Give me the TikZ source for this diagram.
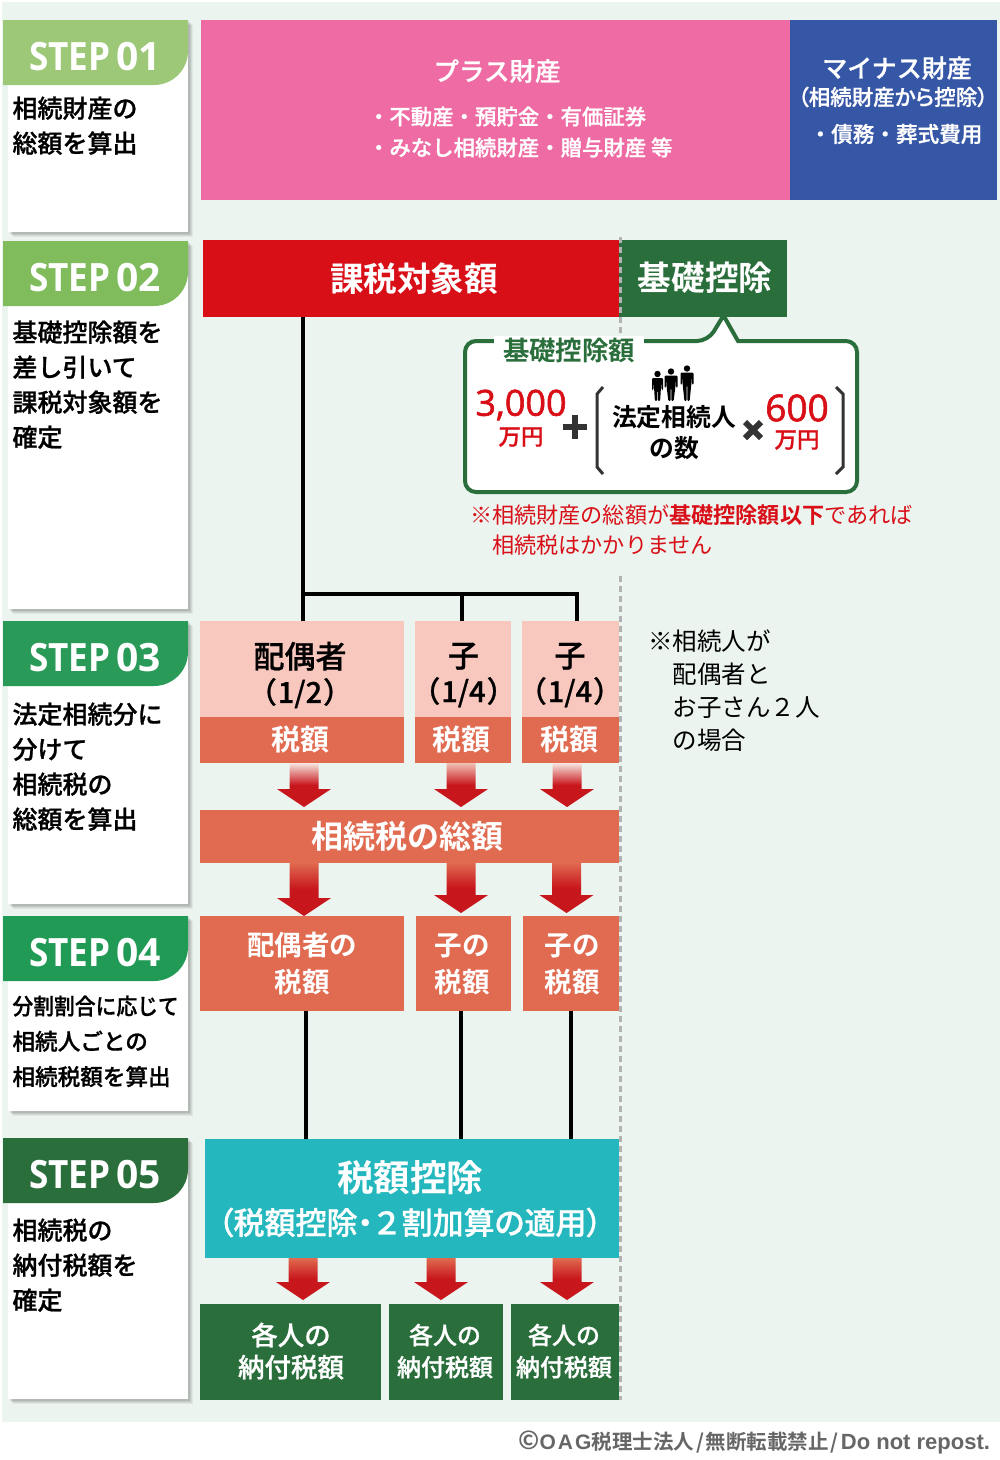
\documentclass[tikz,border=0pt]{standalone}
\usepackage{fontspec}
\usetikzlibrary{calc}
\setmainfont{Noto Sans CJK JP}[BoldFont={Noto Sans CJK JP Bold}]
\newfontfamily\jm{Noto Sans CJK JP Medium}[FakeBold=0.8]
\newfontfamily\jp{Noto Sans CJK JP Medium}[RawFeature=+palt,FakeBold=0.8]
\newfontfamily\jb{Noto Sans CJK JP Bold}
\newfontfamily\lat{Open Sans}
\newfontfamily\latsb{Open Sans}[FakeBold=1.6]
\newfontfamily\libb{Liberation Sans Bold}
\newfontfamily\libs{Liberation Sans Bold}[LetterSpace=10]
\definecolor{panel}{HTML}{EBF4EF}
\definecolor{pinkbox}{HTML}{EE6CA3}
\definecolor{bluebox}{HTML}{3656A6}
\definecolor{redbox}{HTML}{D90F18}
\definecolor{greenbox}{HTML}{2A6E3C}
\definecolor{lightpink}{HTML}{F8C7BE}
\definecolor{coral}{HTML}{E06B50}
\definecolor{teal}{HTML}{24B8BE}
\definecolor{arrowred}{HTML}{C8161D}
\definecolor{paleshaft}{HTML}{F6E6DF}
\definecolor{darkgrey}{HTML}{333333}
\definecolor{stepA}{HTML}{9CC878}
\definecolor{stepB}{HTML}{80BC5C}
\definecolor{stepC}{HTML}{2A9A58}
\definecolor{stepD}{HTML}{219A55}
\definecolor{stepE}{HTML}{2A6E3C}
\tikzset{
  x=1pt,y=-1pt,
  boxbase/.style={draw=none,inner sep=0pt,outer sep=0pt},
  lbl/.style={inner sep=0pt,outer sep=0pt,align=center,text=white},
  blk/.style={inner sep=0pt,outer sep=0pt,align=left,text=black},
  bus/.style={draw=black,line width=3.6pt},
  sep/.style={draw=black!30,line width=3pt,dash pattern=on 6pt off 4pt},
  opline/.style={draw=darkgrey,line width=6pt},
}
\newcommand\fs[2]{\fontsize{#1}{#2}\selectfont}
% name x1 y1 x2 y2 colour
\newcommand\bx[6]{%
  \pgfmathsetmacro\bw{#4-#2}\pgfmathsetmacro\bh{#5-#3}%
  \node[boxbase,fill=#6,minimum width=\bw pt,minimum height=\bh pt] (#1) at ({(#2+#4)/2},{(#3+#5)/2}) {};}
% name y1 y2 colour number bodyfont body-top body
\newcommand\stepcard[8]{%
  \foreach \o/\a in {5/.05,4/.06,3/.07,2/.08}{%
    \fill[black,opacity=\a] (8+\o,#2+\o) rectangle (188+\o,#3+\o);}
  \fill[white] (8,#2) rectangle (188,#3);
  \fill[#4] (3,#2) -- (188,#2) [rounded corners=34pt]-- (188,#2+65) [sharp corners]-- (3,#2+65) -- cycle;
  \node[lbl,anchor=west] (#1h) at (29,#2+37) {\lat\bfseries\fs{39}{39}\scalebox{.9}[1]{STEP}\hspace{6pt}\scalebox{1}[1]{#5}};
  \node[blk,anchor=north west,font=#6] (#1b) at (12.5,#7) {#8};}
% source target x tiptop colour
\newcommand\grad[5]{%
  \coordinate (gradtip) at (#3,#4);
  \shade[top color=#5,bottom color=arrowred,middle color=arrowred]
    let \p1=(#1.south),\p2=(gradtip) in
    (\x2-14.5pt,\y1) -- (\x2+14.5pt,\y1) -- (\x2+14.5pt,\y2+18pt) -- (\x2+27pt,\y2+18pt)
    -- (\x2,\y2) -- (\x2-27pt,\y2+18pt) -- (\x2-14.5pt,\y2+18pt) -- cycle;}
\newcommand\person[5]{% x headcy feet hw woman?
  \fill[black] (#1,#2) circle (3.2);
  \fill[black,rounded corners=1pt] (#1-#4,#2+4) -- (#1+#4,#2+4) -- (#1+#4,#2+16) -- (#1+#4-1.4,#2+16) -- (#1+#4-2,#2+7)
    -- (#1+#4-2.2,#2+16) -- (#1+2.6,#3) -- (#1+.5,#3) -- (#1+.3,#2+17) -- (#1-.3,#2+17) -- (#1-.5,#3) -- (#1-2.6,#3)
    -- (#1-#4+2.2,#2+16) -- (#1-#4+2,#2+7) -- (#1-#4+1.4,#2+16) -- (#1-#4,#2+16) -- cycle;}
\begin{document}
\begin{tikzpicture}
\useasboundingbox (0,0) rectangle (1000,1460);
\fill[white] (0,0) rectangle (1000,1460);
\fill[panel] (2,2) rectangle (1000,1422);

% step column
\stepcard{sa}{20}{232}{stepA}{01}{\jm\fs{25}{35}}{96.5}{相続財産の\\総額を算出}
\stepcard{sb}{241}{609}{stepB}{02}{\jm\fs{25}{35}}{320.5}{基礎控除額を\\差し引いて\\課税対象額を\\確定}
\stepcard{sc}{621}{904}{stepC}{03}{\jm\fs{25}{35}}{702.5}{法定相続分に\\分けて\\相続税の\\総額を算出}
\stepcard{sd}{916}{1111}{stepD}{04}{\jm\fs{22.6}{35.3}}{995.5}{\scalebox{.92}[1]{分割割合に応じて}\\相続人ごとの\\相続税額を算出}
\stepcard{se}{1138}{1399}{stepE}{05}{\jm\fs{25}{35}}{1218.5}{相続税の\\納付税額を\\確定}

% separator (lower part)
\draw[sep] (620,576) -- (620,1400);

% step 1
\bx{plus}{201}{20}{790}{200}{pinkbox}
\bx{minus}{790}{20}{997}{200}{bluebox}
\node[lbl,font=\jm\fs{25.5}{32}] (plust) at (497,71) {プラス財産};
\node[lbl,align=left,anchor=west,font=\jm\fs{21.4}{31}] (plusl) at (368,132) {・不動産・預貯金・有価証券\\・みなし相続財産・贈与財産 等};
\node[lbl,font=\jm\fs{25}{32}] (minust) at (897,68) {マイナス財産};
\node[lbl,font=\jp\fs{21.5}{26}] (minuss) at (893,97) {（相続財産から控除）};
\node[lbl,font=\jm\fs{21.6}{26}] (minusl) at (896,134) {・債務・葬式費用};

% step 2
\bx{kazei}{203}{240}{619}{317}{redbox}
\bx{kiso}{619}{240}{787}{317}{greenbox}
\draw[sep] (620,237) -- (620,333);
\node[lbl,font=\jb\fs{33.6}{38}] (kazeit) at (414,279) {課税対象額};
\node[lbl,font=\jb\fs{33.6}{38}] (kisot) at (705,278) {基礎控除};

% callout
\coordinate (tip) at (723.5,315.5);
\draw[greenbox,fill=white,line width=4pt,rounded corners=11pt] (465,341) -- (708,341) [sharp corners]-- (tip) -- (738,341) [rounded corners=11pt]-- (857,341) -- (857,492) -- (465,492) -- cycle;
\node[boxbase,fill=white,minimum width=150pt,minimum height=28pt,text=greenbox,font=\jb\fs{26.4}{30}] (kisog) at (569,350) {基礎控除額};
\node[lbl,text=redbox,font=\latsb\fs{36}{40}] (n3000) at (521,405) {3,000};
\node[lbl,text=redbox,font=\jm\fs{22.5}{26}] (m3000) at (521,437) {万円};
\coordinate (pc) at (574.7,427);
\draw[opline] ($(pc)+(-12,0)$) -- ($(pc)+(12,0)$);
\draw[opline] ($(pc)+(0,-12)$) -- ($(pc)+(0,12)$);
\draw[darkgrey,line width=3pt] (603,387) -- (597,394) -- (597,467) -- (603,474);
\draw[darkgrey,line width=3pt] (836,387) -- (843,394) -- (843,467) -- (836,474);
\person{657.5}{374}{401}{5.5}{0}
\person{671}{371.5}{401}{6.5}{1}
\person{687}{368.5}{401}{6.5}{0}
\node[lbl,text=black,font=\jb\fs{24.8}{31}] (houtei) at (674,433) {法定相続人\\の数};
\coordinate (mc) at (753,430);
\draw[opline] ($(mc)+(-8,-8)$) -- ($(mc)+(8,8)$);
\draw[opline] ($(mc)+(-8,8)$) -- ($(mc)+(8,-8)$);
\node[lbl,text=redbox,font=\latsb\fs{37}{40}] (n600) at (797,408) {600};
\node[lbl,text=redbox,font=\jm\fs{22.5}{26}] (m600) at (797,440) {万円};
\node[lbl,text=redbox,align=left,anchor=west,font=\fs{22.15}{30}] (caution) at (470,530) {※相続財産の総額が{\jb 基礎控除額以下}であれば\\\hspace{22.15pt}相続税はかかりません};
\node[lbl,text=black,align=left,anchor=west,font=\fs{24.5}{33}] (nb) at (648,691) {※相続人が\\\hspace{24.5pt}配偶者と\\\hspace{24.5pt}お子さん２人\\\hspace{24.5pt}の場合};

% step 3
\bx{ha}{199.5}{621}{404}{717}{lightpink}
\bx{kb}{415}{621}{511}{717}{lightpink}
\bx{kc}{522}{621}{619}{717}{lightpink}
\bx{hat}{199.5}{717}{404}{763}{coral}
\bx{kbt}{415}{717}{511}{763}{coral}
\bx{kct}{522}{717}{619}{763}{coral}
\node[lbl,text=black,font=\jm\fs{31}{35}] (hal) at (300,675) {配偶者\\\jp\fs{29}{35}（\kern2pt 1/2\kern2pt ）};
\node[lbl,text=black,font=\jm\fs{31}{35}] (kbl) at (463.5,675) {子\\\jp\fs{29}{35}（\kern2pt 1/4\kern2pt ）};
\node[lbl,text=black,font=\jm\fs{31}{35}] (kcl) at (570,675) {子\\\jp\fs{29}{35}（\kern2pt 1/4\kern2pt ）};
\node[lbl,font=\jb\fs{29}{32}] (hatl) at (300,739) {税額};
\node[lbl,font=\jb\fs{29}{32}] (kbtl) at (461,739) {税額};
\node[lbl,font=\jb\fs{29}{32}] (kctl) at (569,739) {税額};
\coordinate (busa) at (303,594);
\coordinate (busb) at (462,594);
\coordinate (busc) at (577,594);
\draw[bus] (kazei.south -| busa) -- (ha.north -| busa);
\draw[bus] (busa) -- (busb) -- (busc) -- (kc.north -| busc);
\draw[bus] (busb) -- (kb.north -| busb);

\bx{total}{199.5}{809.5}{619}{862.5}{coral}
\node[lbl,font=\jb\fs{32}{36}] (totall) at (407,836) {相続税の総額};
\grad{hat}{total}{304}{807}{paleshaft}
\grad{kbt}{total}{461}{807}{paleshaft!70!coral}
\grad{kct}{total}{567}{807}{paleshaft}

% step 4
\bx{ea}{199.5}{915.5}{404}{1011}{coral}
\bx{eb}{415.5}{915.5}{511}{1011}{coral}
\bx{ec}{523}{915.5}{619}{1011}{coral}
\node[lbl,font=\jb\fs{27.5}{37}] (eal) at (302,964) {配偶者の\\税額};
\node[lbl,font=\jb\fs{27.5}{37}] (ebl) at (462,964) {子の\\税額};
\node[lbl,font=\jb\fs{27.5}{37}] (ecl) at (572,964) {子の\\税額};
\grad{total}{ea}{304}{916}{coral}
\grad{total}{eb}{461}{913}{coral}
\grad{total}{ec}{566.5}{913}{coral}

% step 5
\bx{tax}{204.5}{1139}{619}{1258}{teal}
\node[lbl,font=\jb\fs{36.5}{40}] (taxa) at (410,1178) {税額控除};
\node[lbl,font=\jp\fs{31}{36}] (taxb) at (410,1222.5) {（税額控除・\kern2pt ２\kern3pt 割加算の適用）};
\coordinate (la) at (306,1060);
\coordinate (lb) at (461,1060);
\coordinate (lc) at (571,1060);
\draw[bus] (ea.south -| la) -- (tax.north -| la);
\draw[bus] (eb.south -| lb) -- (tax.north -| lb);
\draw[bus] (ec.south -| lc) -- (tax.north -| lc);

\bx{fa}{199.5}{1303.5}{381}{1399.5}{greenbox}
\bx{fb}{389}{1303.5}{503}{1399.5}{greenbox}
\bx{fc}{511}{1303.5}{619}{1399.5}{greenbox}
\node[lbl,font=\jm\fs{26.5}{32}] (fal) at (291,1351) {各人の\\納付税額};
\node[lbl,font=\jm\fs{24}{32}] (fbl) at (445,1351) {各人の\\納付税額};
\node[lbl,font=\jm\fs{24}{32}] (fcl) at (564,1351) {各人の\\納付税額};
\grad{tax}{fa}{303}{1300}{coral}
\grad{tax}{fb}{441}{1300}{coral}
\grad{tax}{fc}{567}{1300}{coral}

\node[lbl,text=black!60,anchor=east,font=\jb\fs{20.5}{24}] (copy) at (990,1442) {{\fs{25}{24}©}{\libs\fs{21}{24}OAG}税理士法人\kern2pt/\kern2pt 無断転載禁止\kern2pt/\kern2pt{\libb\fs{22}{24}Do not repost.}};
\end{tikzpicture}
\end{document}
